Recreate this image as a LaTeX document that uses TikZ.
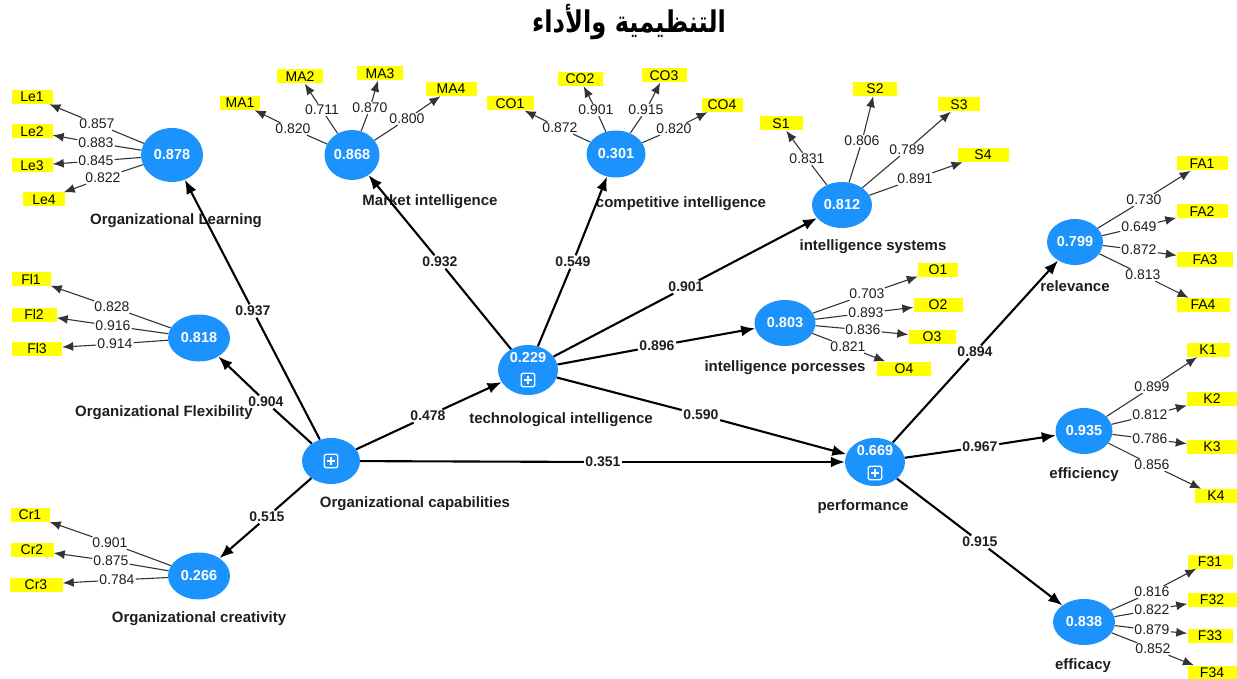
\documentclass[tikz,border=0pt]{standalone}
\usepackage{fontspec}
\setmainfont{Liberation Sans}
\newfontfamily\arabicfont[Script=Arabic]{DejaVu Sans}
\TeXXeTstate=1
\usetikzlibrary{shapes.geometric,arrows.meta}
\definecolor{latblue}{RGB}{28,146,252}
\definecolor{indyellow}{RGB}{255,255,0}
\definecolor{txtdark}{RGB}{30,30,30}
\tikzset{
  lat/.style={ellipse, fill=latblue, draw=none, inner sep=0pt, text=white,
    font=\fontsize{14.5}{16}\selectfont\bfseries, minimum width=60pt, minimum height=47pt},
  ind/.style={fill=indyellow, inner sep=0pt, minimum height=14pt,
    font=\fontsize{14}{15}\selectfont, text=black},
  ld/.style={inner sep=1pt, font=\fontsize{14}{15}\selectfont, text=txtdark},
  coef/.style={inner sep=1.5pt, font=\fontsize{14}{15}\selectfont\bfseries, text=txtdark},
  latlab/.style={font=\fontsize{15}{17}\selectfont\bfseries, text=txtdark},
  ldline/.style={draw=black!80, line width=1.1pt},
  ldarrow/.style={ldline, -{Latex[length=11pt,width=9pt]}},
  pathline/.style={draw=black, line width=2.1pt},
  patharrow/.style={pathline, -{Latex[length=14pt,width=11pt]}},
  plusbox/.style={draw=white, line width=1.1pt, rounded corners=1.5pt, minimum size=13.5pt, inner sep=0pt},
}
% loading: latent, label name, label position, value, indicator
\newcommand\mkload[5]{%
  \node[ld] (#2) at (#3) {#4};
  \draw[ldline] (#1) -- (#2);
  \draw[ldarrow] (#2) -- (#5);
}
% structural path: source, label name, label position, value, target
\newcommand\mkpath[5]{%
  \node[coef] (#2) at (#3) {#4};
  \draw[pathline] (#1) -- (#2);
  \draw[patharrow] (#2) -- (#5);
}
% composite marker inside a latent ellipse
\newcommand\mkplus[2]{%
  \node[plusbox] (#1) at (#2) {};
  \draw[white, line width=1.1pt] ([yshift=-3pt]#1.north) -- ([yshift=3pt]#1.south);
  \draw[white, line width=1.1pt] ([xshift=3pt]#1.west) -- ([xshift=-3pt]#1.east);
}
\begin{document}
\begin{tikzpicture}[x=1pt,y=-1pt]
\useasboundingbox (0,0) rectangle (1237,679);

% title
\node (title) at (629,22) {\scalebox{1.05}[1.3]{\arabicfont\bfseries\fontsize{23}{28}\selectfont\beginR التنظيمية والأداء\endR}};

% latent variables
\node[lat, minimum width=62pt, minimum height=54pt] (learn) at (172,155) {0.878};
\node[lat, minimum width=55pt, minimum height=50pt] (market) at (352,155) {0.868};
\node[lat, minimum width=59pt, minimum height=47pt] (comp) at (616,154) {0.301};
\node[lat, minimum width=60pt, minimum height=46pt] (sys) at (842,205) {0.812};
\node[lat, minimum width=56pt, minimum height=46pt] (rel) at (1075,242) {0.799};
\node[lat, minimum width=61pt, minimum height=46pt] (proc) at (785,323) {0.803};
\node[lat, minimum width=57pt, minimum height=46pt] (eff) at (1084,431) {0.935};
\node[lat, minimum width=62pt, minimum height=46pt] (effc) at (1084,622) {0.838};
\node[lat, minimum width=62pt, minimum height=47pt] (flex) at (199,338) {0.818};
\node[lat, minimum width=62pt, minimum height=47pt] (creat) at (199,576) {0.266};
\node[lat, minimum width=60pt, minimum height=50pt] (tech) at (528,370) {};
\node[lat, minimum width=58pt, minimum height=46pt] (cap) at (331,461) {};
\node[lat, minimum width=60pt, minimum height=48pt] (perf) at (875,462) {};
\node[font=\fontsize{14.5}{16}\selectfont\bfseries, text=white, inner sep=0pt] (techval) at (528,358) {0.229};
\node[font=\fontsize{14.5}{16}\selectfont\bfseries, text=white, inner sep=0pt] (perfval) at (875,451) {0.669};
\mkplus{techplus}{528,380}
\mkplus{capplus}{331,461}
\mkplus{perfplus}{875,473}

% latent labels
\node[latlab] (learnlab) at (176,221) {Organizational Learning};
\node[latlab] (marketlab) at (430,202) {Market intelligence};
\node[latlab] (complab) at (681,204) {competitive intelligence};
\node[latlab] (syslab) at (873,247) {intelligence systems};
\node[latlab] (rellab) at (1075,286) {relevance};
\node[latlab] (proclab) at (785,368) {intelligence porcesses};
\node[latlab] (efflab) at (1084,475) {efficiency};
\node[latlab] (effclab) at (1083,666) {efficacy};
\node[latlab] (flexlab) at (164,413) {Organizational Flexibility};
\node[latlab] (creatlab) at (199,619) {Organizational creativity};
\node[latlab] (techlab) at (561,420) {technological intelligence};
\node[latlab] (caplab) at (415,504) {Organizational capabilities};
\node[latlab] (perflab) at (863,507) {performance};

% indicators
\node[ind, minimum width=41pt] (Le1) at (32,97) {Le1};
\node[ind, minimum width=41pt] (Le2) at (32,131.5) {Le2};
\node[ind, minimum width=41pt] (Le3) at (32,165.5) {Le3};
\node[ind, minimum width=42pt] (Le4) at (44,199.5) {Le4};
\node[ind, minimum width=40pt] (MA1) at (240,103) {MA1};
\node[ind, minimum width=46pt] (MA2) at (300,76.5) {MA2};
\node[ind, minimum width=46pt] (MA3) at (380,73.5) {MA3};
\node[ind, minimum width=51pt] (MA4) at (451,89) {MA4};
\node[ind, minimum width=47pt] (CO1) at (510,103.5) {CO1};
\node[ind, minimum width=45pt] (CO2) at (580,79) {CO2};
\node[ind, minimum width=45pt] (CO3) at (664,75.5) {CO3};
\node[ind, minimum width=41pt] (CO4) at (722,105) {CO4};
\node[ind, minimum width=43pt] (S1) at (781,123.5) {S1};
\node[ind, minimum width=44pt] (S2) at (875,89) {S2};
\node[ind, minimum width=42pt] (S3) at (959,104.5) {S3};
\node[ind, minimum width=51pt] (S4) at (983,155) {S4};
\node[ind, minimum width=51pt] (FA1) at (1202,163.5) {FA1};
\node[ind, minimum width=51pt] (FA2) at (1202,211.5) {FA2};
\node[ind, minimum width=56pt] (FA3) at (1205,259.5) {FA3};
\node[ind, minimum width=53pt] (FA4) at (1203,305) {FA4};
\node[ind, minimum width=40pt] (O1) at (938,269.5) {O1};
\node[ind, minimum width=49pt] (O2) at (938,304.5) {O2};
\node[ind, minimum width=47pt] (O3) at (932,337) {O3};
\node[ind, minimum width=54pt] (O4) at (904,368.5) {O4};
\node[ind, minimum width=43pt] (K1) at (1208,350) {K1};
\node[ind, minimum width=50pt] (K2) at (1212,399) {K2};
\node[ind, minimum width=50pt] (K3) at (1212,447) {K3};
\node[ind, minimum width=42pt] (K4) at (1216,496) {K4};
\node[ind, minimum width=45pt] (F31) at (1210,561.5) {F31};
\node[ind, minimum width=49pt] (F32) at (1212,599.5) {F32};
\node[ind, minimum width=45pt] (F33) at (1210,635.5) {F33};
\node[ind, minimum width=49pt] (F34) at (1212,672.5) {F34};
\node[ind, minimum width=39pt] (Fl1) at (31,279) {Fl1};
\node[ind, minimum width=45pt] (Fl2) at (34,314.5) {Fl2};
\node[ind, minimum width=50pt] (Fl3) at (37,348.5) {Fl3};
\node[ind, minimum width=39pt] (Cr1) at (30,515) {Cr1};
\node[ind, minimum width=43pt] (Cr2) at (32,550) {Cr2};
\node[ind, minimum width=53pt] (Cr3) at (36,584.5) {Cr3};

% outer loadings
\mkload{learn}{lLe1}{97,124}{0.857}{Le1}
\mkload{learn}{lLe2}{96,143}{0.883}{Le2}
\mkload{learn}{lLe3}{96,161}{0.845}{Le3}
\mkload{learn}{lLe4}{103,178}{0.822}{Le4}
\mkload{market}{lMA1}{293,129}{0.820}{MA1}
\mkload{market}{lMA2}{322,110}{0.711}{MA2}
\mkload{market}{lMA3}{370,108}{0.870}{MA3}
\mkload{market}{lMA4}{407,119}{0.800}{MA4}
\mkload{comp}{lCO1}{560,128}{0.872}{CO1}
\mkload{comp}{lCO2}{596,110}{0.901}{CO2}
\mkload{comp}{lCO3}{646,110}{0.915}{CO3}
\mkload{comp}{lCO4}{674,129}{0.820}{CO4}
\mkload{sys}{lS1}{807,159}{0.831}{S1}
\mkload{sys}{lS2}{862,141}{0.806}{S2}
\mkload{sys}{lS3}{907,150}{0.789}{S3}
\mkload{sys}{lS4}{915,179}{0.891}{S4}
\mkload{rel}{lFA1}{1144,200}{0.730}{FA1}
\mkload{rel}{lFA2}{1139,227}{0.649}{FA2}
\mkload{rel}{lFA3}{1139,250}{0.872}{FA3}
\mkload{rel}{lFA4}{1143,275}{0.813}{FA4}
\mkload{proc}{lO1}{867,294}{0.703}{O1}
\mkload{proc}{lO2}{866,313}{0.893}{O2}
\mkload{proc}{lO3}{863,330}{0.836}{O3}
\mkload{proc}{lO4}{848,347}{0.821}{O4}
\mkload{eff}{lK1}{1152,387}{0.899}{K1}
\mkload{eff}{lK2}{1150,415}{0.812}{K2}
\mkload{eff}{lK3}{1150,439}{0.786}{K3}
\mkload{eff}{lK4}{1152,465}{0.856}{K4}
\mkload{effc}{lF31}{1152,592}{0.816}{F31}
\mkload{effc}{lF32}{1152,610}{0.822}{F32}
\mkload{effc}{lF33}{1152,630}{0.879}{F33}
\mkload{effc}{lF34}{1153,649}{0.852}{F34}
\mkload{flex}{lFl1}{112,307}{0.828}{Fl1}
\mkload{flex}{lFl2}{113,326}{0.916}{Fl2}
\mkload{flex}{lFl3}{115,344}{0.914}{Fl3}
\mkload{creat}{lCr1}{110,543}{0.901}{Cr1}
\mkload{creat}{lCr2}{111,561}{0.875}{Cr2}
\mkload{creat}{lCr3}{117,580}{0.784}{Cr3}

% structural paths
\mkpath{cap}{pLearn}{253,311}{0.937}{learn}
\mkpath{cap}{pFlex}{266,402}{0.904}{flex}
\mkpath{cap}{pCreat}{267,517}{0.515}{creat}
\mkpath{cap}{pTech}{428,416}{0.478}{tech}
\mkpath{cap}{pPerf}{603,462}{0.351}{perf}
\mkpath{tech}{pMarket}{440,262}{0.932}{market}
\mkpath{tech}{pComp}{573,262}{0.549}{comp}
\mkpath{tech}{pSys}{686,287}{0.901}{sys}
\mkpath{tech}{pProc}{657,346}{0.896}{proc}
\mkpath{tech}{pPerf2}{701,415}{0.590}{perf}
\mkpath{perf}{pRel}{975,352}{0.894}{rel}
\mkpath{perf}{pEff}{980,447}{0.967}{eff}
\mkpath{perf}{pEffc}{980,542}{0.915}{effc}
\end{tikzpicture}
\end{document}
